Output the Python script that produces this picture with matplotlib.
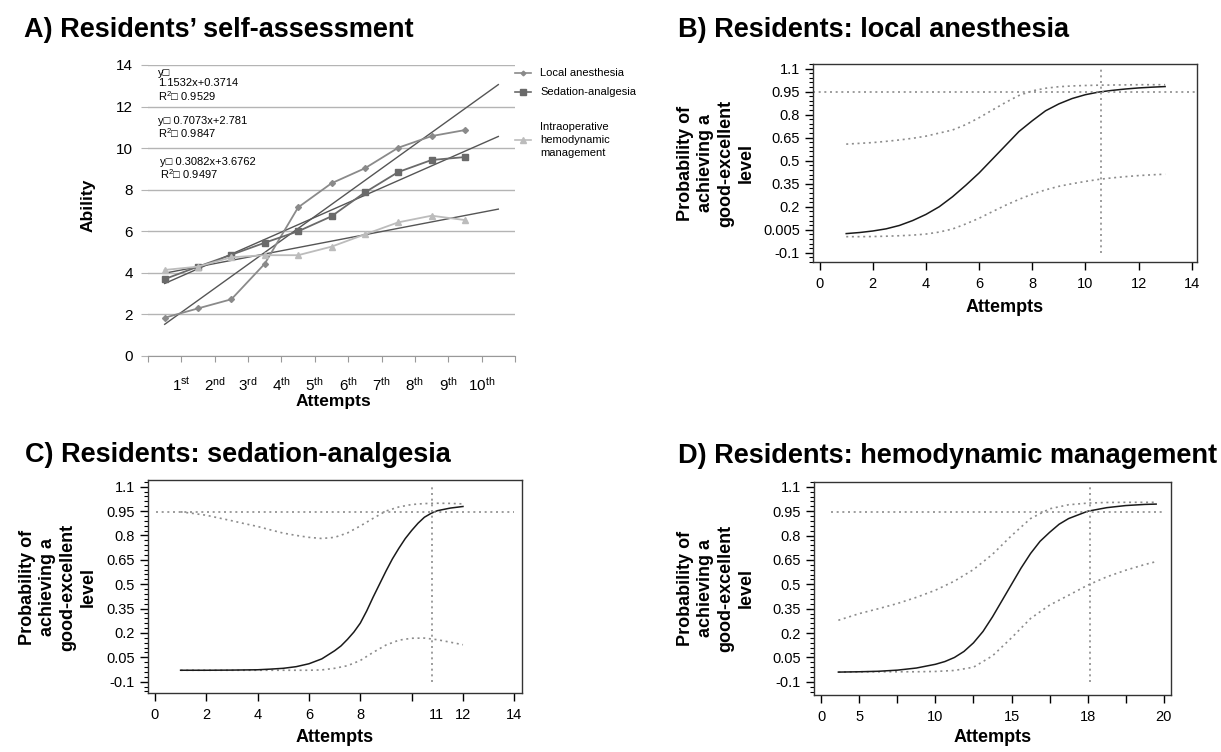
import matplotlib
matplotlib.use("Agg")
import matplotlib.pyplot as plt
import numpy as np
from matplotlib.lines import Line2D

plt.rcParams['font.family'] = ['Liberation Sans', 'DejaVu Sans']
plt.rcParams['mathtext.fontset'] = 'custom'
plt.rcParams['mathtext.rm'] = 'Liberation Sans'
plt.rcParams['mathtext.it'] = 'Liberation Sans:italic'
plt.rcParams['mathtext.bf'] = 'Liberation Sans:bold'

# ---- panel A: self-assessment scores per attempt ----
attempt_labels = ['1st', '2nd', '3rd', '4th', '5th', '6th', '7th', '8th', '9th', '10th']
local_anesthesia = [1.84, 2.29, 2.73, 4.44, 7.15, 8.31, 9.03, 10.02, 10.58, 10.87]
sedation_analgesia = [3.70, 4.30, 4.87, 5.45, 6.00, 6.72, 7.87, 8.85, 9.43, 9.57]
hemodynamic = [4.14, 4.30, 4.75, 4.85, 4.85, 5.26, 5.85, 6.43, 6.75, 6.54]
series_names = ['Local anesthesia', 'Sedation-analgesia', 'Intraoperative\nhemodynamic\nmanagement']
# linear trends (slope, intercept, R2) as printed on the chart
trend_slopes = [1.1532, 0.7073, 0.3082]
trend_intercepts = [0.3714, 2.781, 3.6762]
trend_r2 = ['0.9529', '0.9847', '0.9497']

# ---- panel B: local anesthesia ----
b_x = [1, 1.5, 2, 2.5, 3, 3.5, 4, 4.5, 5, 5.5, 6, 6.5, 7, 7.5, 8, 8.5, 9, 9.5, 10, 10.5, 11, 11.5, 12, 12.5, 13]
b_fit = [0.025, 0.032, 0.042, 0.056, 0.078, 0.11, 0.15, 0.20, 0.265, 0.34, 0.42, 0.51, 0.60, 0.69, 0.76,
         0.825, 0.87, 0.905, 0.93, 0.947, 0.958, 0.967, 0.974, 0.979, 0.983]
b_upper = [0.608, 0.613, 0.618, 0.626, 0.635, 0.646, 0.66, 0.68, 0.70, 0.735, 0.78, 0.83, 0.88, 0.925, 0.955,
           0.972, 0.982, 0.987, 0.99, 0.992, 0.993, 0.994, 0.995, 0.995, 0.995]
b_lower = [0.005, 0.005, 0.006, 0.008, 0.011, 0.015, 0.022, 0.035, 0.055, 0.088, 0.125, 0.168, 0.21, 0.248, 0.282,
           0.31, 0.333, 0.35, 0.365, 0.378, 0.388, 0.396, 0.403, 0.408, 0.412]
b_cut = 10.58

# ---- panel C: sedation-analgesia ----
c_fit_x = [1, 2, 3, 4, 4.5, 5, 5.5, 6, 6.5, 7, 7.25, 7.5, 7.75, 8, 8.25, 8.5, 8.75, 9, 9.25, 9.5, 9.75,
           10, 10.25, 10.5, 10.75, 11, 11.5, 12]
c_fit = [-0.03, -0.03, -0.029, -0.027, -0.023, -0.018, -0.008, 0.01, 0.04, 0.09, 0.12, 0.16, 0.205, 0.26,
         0.335, 0.42, 0.50, 0.58, 0.655, 0.72, 0.78, 0.83, 0.875, 0.912, 0.935, 0.952, 0.968, 0.978]
c_x = [1, 1.5, 2, 2.5, 3, 3.5, 4, 4.5, 5, 5.5, 6, 6.5, 7, 7.5, 8, 8.5, 9, 9.5, 10, 10.5, 11, 11.5, 12]
c_upper = [0.945, 0.935, 0.924, 0.907, 0.89, 0.872, 0.855, 0.834, 0.814, 0.80, 0.788, 0.781, 0.788, 0.815,
           0.858, 0.905, 0.95, 0.975, 0.99, 0.996, 0.998, 0.997, 0.994]
c_lower = [-0.03, -0.03, -0.03, -0.03, -0.03, -0.03, -0.03, -0.03, -0.03, -0.03, -0.03, -0.028, -0.018, -0.002,
           0.03, 0.08, 0.125, 0.155, 0.167, 0.168, 0.158, 0.143, 0.127]
c_cut = 10.8

# ---- panel D: hemodynamic management (x in tick positions, axis labels are uneven) ----
d_fit_x = [0.45, 1, 1.5, 2, 2.5, 3, 3.25, 3.5, 3.75, 4, 4.25, 4.5, 4.75, 5, 5.25, 5.5, 5.75, 6, 6.25, 6.5,
           7, 7.5, 8, 8.5, 8.8]
d_fit = [-0.04, -0.038, -0.035, -0.028, -0.015, 0.008, 0.025, 0.05, 0.087, 0.14, 0.21, 0.30, 0.40, 0.50,
         0.60, 0.69, 0.765, 0.82, 0.87, 0.905, 0.95, 0.972, 0.985, 0.992, 0.994]
d_x = [0.45, 1.0, 1.5, 2.0, 2.5, 3.0, 3.5, 4.0, 4.5, 5.0, 5.5, 6.0, 6.5, 7.0, 7.5, 8.0, 8.5, 8.8]
d_upper = [0.279, 0.32, 0.35, 0.382, 0.42, 0.464, 0.52, 0.591, 0.685, 0.80, 0.905, 0.965, 0.99, 1.0, 1.004,
           1.005, 1.005, 1.005]
d_lower = [-0.04, -0.038, -0.038, -0.038, -0.038, -0.036, -0.03, -0.01, 0.06, 0.171, 0.29, 0.372, 0.433, 0.495,
           0.546, 0.587, 0.622, 0.64]
d_cut = 7.07
d_tick_labels = ['0', '5', '', '10', '', '15', '', '18', '', '20']

prob_ticks = [-0.1, 0.05, 0.2, 0.35, 0.5, 0.65, 0.8, 0.95, 1.1]
prob_labels = ['-0.1', '0.05', '0.2', '0.35', '0.5', '0.65', '0.8', '0.95', '1.1']
threshold = 0.945

W, H = 1221, 752
fig = plt.figure(figsize=(W / 100, H / 100), dpi=100)


def rect(l, t, r, b):
    return [l / W, 1 - b / H, (r - l) / W, (b - t) / H]


def ftext(x, y, s, **kw):
    return fig.text(x / W, 1 - y / H, s, **kw)


TITLE = dict(fontsize=19.5, fontweight='bold', va='baseline')
LABEL = dict(fontsize=13, fontweight='bold', ha='center', va='center')

# ================= A =================
ax = fig.add_axes(rect(148, 65, 515, 356))
pos = np.arange(len(attempt_labels)) + 0.5
ax.set_xlim(0, 11)
ax.set_ylim(0, 14)
ax.set_yticks(np.arange(0, 15, 2))
ax.yaxis.grid(True, color='#b4b4b4', lw=1)
ax.set_axisbelow(True)
for s in ['top', 'right', 'left']:
    ax.spines[s].set_visible(False)
ax.spines['bottom'].set_color('#999999')
ax.set_xticks(np.arange(0, 12))
ax.set_xticklabels([''] + [r'%s$^{\mathrm{%s}}$' % (l[:-2], l[-2:]) for l in attempt_labels] + [''])
ax.tick_params(axis='x', length=4, color='#999999', labelsize=11, pad=10)
ax.tick_params(axis='y', length=5, color='#b4b4b4', labelsize=11, pad=6)

tx = np.arange(1, 12)
for m, c in zip(trend_slopes, trend_intercepts):
    ax.plot(tx - 0.5, m * tx + c, color='#555555', lw=1)

styles = [dict(color='#8a8a8a', marker='D', ms=3),
          dict(color='#6a6a6a', marker='s', ms=5),
          dict(color='#bcbcbc', marker='^', ms=5)]
for vals, st in zip([local_anesthesia, sedation_analgesia, hemodynamic], styles):
    ax.plot(pos, vals, lw=1.3, **st)

# legend drawn by hand to match the spacing of the original
for name, y, st in zip(series_names, [73, 92, 140], styles):
    fig.add_artist(Line2D([515 / W, 531 / W], [1 - y / H] * 2, color=st['color'], lw=1.2))
    fig.add_artist(Line2D([523 / W], [1 - y / H], color=st['color'], marker=st['marker'], ms=st['ms'] * 0.8))
    ftext(540, y, name, fontsize=8, va='center', linespacing=1.35)

sq = '\u25a1'
ftext(158, 68, 'y' + sq + '\n1.1532x+0.3714\nR$^2$' + sq + ' ' + trend_r2[0], fontsize=8, va='top', linespacing=1.05)
ftext(158, 116, 'y' + sq + ' 0.7073x+2.781\nR$^2$' + sq + ' ' + trend_r2[1], fontsize=8, va='top', linespacing=1.05)
ftext(160, 157, 'y' + sq + ' 0.3082x+3.6762\nR$^2$' + sq + ' ' + trend_r2[2], fontsize=8, va='top', linespacing=1.05)

ftext(88, 205, 'Ability', rotation=90, fontsize=12.5, fontweight='bold', ha='center', va='center')
ftext(333, 402, 'Attempts', fontsize=12.5, fontweight='bold', ha='center', va='center')
ftext(24, 37, "A) Residents\u2019 self-assessment", **TITLE)


# ================= B, C, D =================
def prob_panel(box, fit_x, fit, x, upper, lower, cut, xlim, ylim, hl_x, low_label):
    ax = fig.add_axes(rect(*box))
    dots = dict(color='#8c8c8c', lw=1.2, ls=(0, (1.2, 2.2)))
    ax.plot(x, upper, **dots)
    ax.plot(x, lower, **dots)
    ax.plot(fit_x, fit, color='#1a1a1a', lw=1.1)
    ax.hlines(threshold, hl_x[0], hl_x[1], **dots)
    ax.vlines(cut, -0.1, 1.1, **dots)
    ax.set_xlim(*xlim)
    ax.set_ylim(*ylim)
    ax.set_yticks(prob_ticks)
    labels = list(prob_labels)
    labels[1] = low_label
    ax.set_yticklabels(labels)
    ax.set_yticks(np.arange(-0.16, 1.14, 0.03), minor=True)
    ax.tick_params(axis='both', which='major', direction='out', length=6, width=1, labelsize=10.5)
    ax.tick_params(axis='y', which='minor', direction='out', length=3, width=0.8)
    ax.tick_params(axis='x', pad=5)
    for s in ax.spines.values():
        s.set_color('#333333')
        s.set_linewidth(1)
    return ax


def prob_labels_text(cx, cy, xx, xy):
    ftext(cx, cy, 'Probability of\nachieving a\ngood-excellent\nlevel', rotation=90, multialignment='center',
          linespacing=1.25, **LABEL)
    ftext(xx, xy, 'Attempts', **LABEL)


axb = prob_panel((813, 64, 1197, 262), b_x, b_fit, b_x, b_upper, b_lower, b_cut,
                 (-0.25, 14.2), (-0.125, 1.13), (-0.25, 14.2), '0.005')
axb.set_xticks(np.arange(0, 15, 2))
prob_labels_text(716, 163, 1005, 308)
ftext(678, 37, 'B) Residents: local anesthesia', **TITLE)

axc = prob_panel((148, 480, 522, 693), c_fit_x, c_fit, c_x, c_upper, c_lower, c_cut,
                 (-0.27, 14.3), (-0.17, 1.141), (0.05, 14), '0.05')
axc.set_xticks(np.arange(0, 15, 2))
axc.set_xticklabels(['0', '2', '4', '6', '8', '', '12', '14'])
axc.set_xticks([10.95], minor=True)
axc.set_xticklabels(['11'], minor=True)
axc.tick_params(axis='x', which='minor', length=0, pad=11, labelsize=10.5)
prob_labels_text(58, 587, 335, 738)
ftext(25, 462, 'C) Residents: sedation-analgesia', **TITLE)

axd = prob_panel((814, 482, 1171, 695), d_fit_x, d_fit, d_x, d_upper, d_lower, d_cut,
                 (-0.19, 9.19), (-0.181, 1.118), (0.25, 9.0), '0.05')
axd.set_xticks(np.arange(0, 10))
axd.set_xticklabels(d_tick_labels)
prob_labels_text(716, 588, 993, 738)
ftext(678, 463, 'D) Residents: hemodynamic management', **TITLE)

fig.savefig('out.png', dpi=100)
